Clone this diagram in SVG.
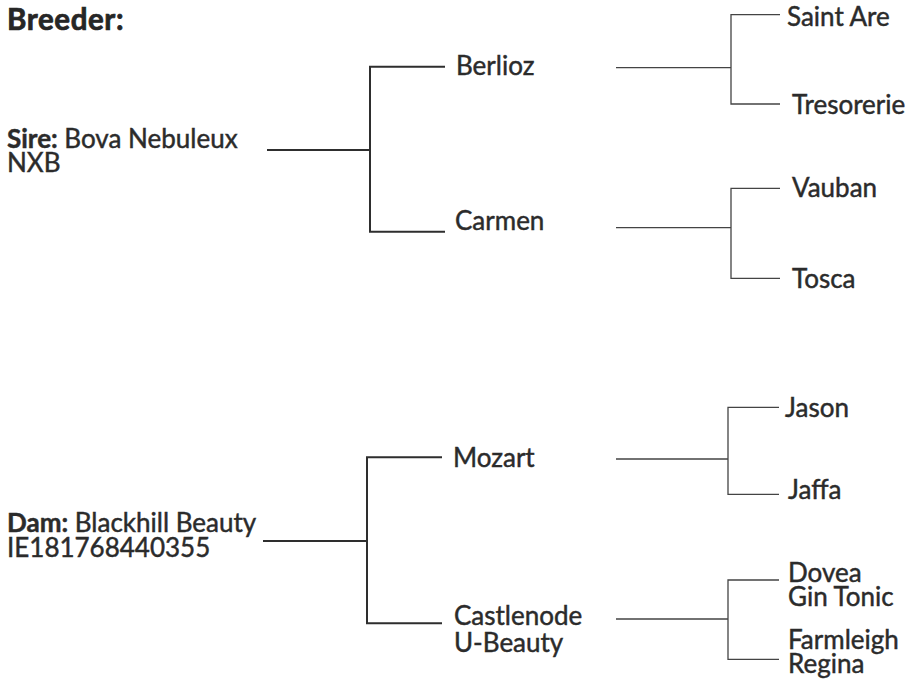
<svg xmlns="http://www.w3.org/2000/svg" width="914" height="696" viewBox="0 0 914 696">
<style>
.t{font-family:Lato,"Open Sans","Liberation Sans",sans-serif;font-size:26px;fill:#2b2b2b;stroke:#2b2b2b;stroke-width:0.45}
.b{font-weight:bold}
.h{font-family:Lato,"Open Sans","Liberation Sans",sans-serif;font-size:29.5px;font-weight:bold;letter-spacing:0.6px;fill:#262626;stroke:#262626;stroke-width:0.7}
.l1{fill:none;stroke:#2e2e2e;stroke-width:2}
.l2{fill:none;stroke:#444;stroke-width:1.3}
</style>
<rect width="914" height="696" fill="#fff"/>
<g id="connectors">
<path class="l1" d="M267,150H370M445,66.7H370V231.7H445"/>
<path class="l1" d="M263,541H367M442,457.3H367V623.3H442"/>
<path class="l2" d="M616,67.7H731M780,14.7H731V104H780"/>
<path class="l2" d="M616,227.7H731M780,188.3H731V278.3H780"/>
<path class="l2" d="M616,459H728M779,407.3H728V494.3H779"/>
<path class="l2" d="M616,619H728M779,580H728V659.3H779"/>
</g>
<g id="breeder"><text class="h" x="7" y="29.5">Breeder:</text></g>
<g id="sire"><text class="t" x="7" y="148.3"><tspan class="b">Sire:</tspan> Bova Nebuleux</text><text class="t" x="7" y="171.7">NXB</text></g>
<g id="dam"><text class="t" x="7" y="532.3"><tspan class="b">Dam:</tspan> Blackhill Beauty</text><text class="t" x="7" y="557.3">IE181768440355</text></g>
<g id="berlioz"><text class="t" x="456" y="75">Berlioz</text></g>
<g id="carmen"><text class="t" x="455" y="230">Carmen</text></g>
<g id="mozart"><text class="t" x="453" y="466.7">Mozart</text></g>
<g id="castlenode"><text class="t" x="454" y="625">Castlenode</text><text class="t" x="454" y="651.7">U-Beauty</text></g>
<g id="saint-are"><text class="t" x="787" y="26">Saint Are</text></g>
<g id="tresorerie"><text class="t" x="792" y="114">Tresorerie</text></g>
<g id="vauban"><text class="t" x="792" y="196.7">Vauban</text></g>
<g id="tosca"><text class="t" x="792" y="288.3">Tosca</text></g>
<g id="jason"><text class="t" x="785" y="416.7">Jason</text></g>
<g id="jaffa"><text class="t" x="788" y="499">Jaffa</text></g>
<g id="dovea"><text class="t" x="788" y="582.3">Dovea</text><text class="t" x="788" y="606">Gin Tonic</text></g>
<g id="farmleigh"><text class="t" x="788" y="649">Farmleigh</text><text class="t" x="788" y="672.7">Regina</text></g>
</svg>
